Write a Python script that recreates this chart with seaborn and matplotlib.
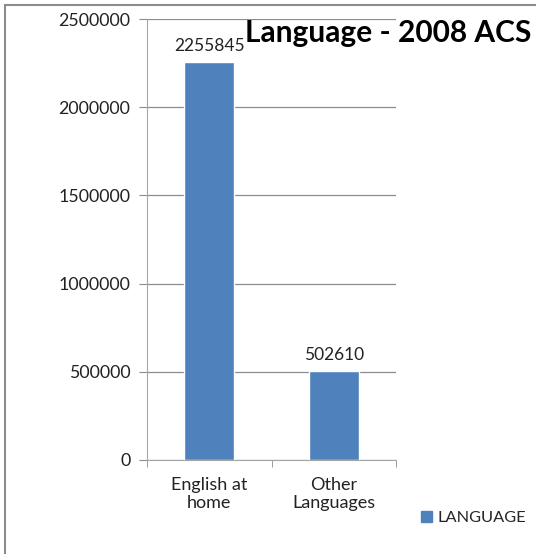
import pandas as pd
import matplotlib.pyplot as plt
import seaborn as sns
from matplotlib.patches import Rectangle

categories = ["English at\nhome", "Other\nLanguages"]
values = [2255845, 502610]
series = "LANGUAGE"
yticks = [0, 500000, 1000000, 1500000, 2000000, 2500000]

bar_color = "#4F81BD"
grid_color = "#8C8C8C"

df = pd.DataFrame({"category": categories, "count": values, "series": series})

sns.set_style("white")
plt.rcParams["font.family"] = ["Lato", "DejaVu Sans"]

fig = plt.figure(figsize=(5.36, 5.54), dpi=100)
ax = fig.add_axes([147 / 536, 1 - 460 / 554, 249 / 536, 441 / 554])

sns.barplot(data=df, x="category", y="count", hue="series", palette=[bar_color],
            width=0.4, dodge=False, saturation=1, ax=ax, legend=False)

ax.set_xlim(-0.5, 1.5)
ax.set_ylim(0, 2500000)
ax.set_yticks(yticks)
ax.set_yticklabels([str(t) for t in yticks], fontsize=12.8, color="#222222")
ax.set_xticks([0, 1])
ax.set_xticklabels(categories, fontsize=13, color="#222222", linespacing=1.15)
ax.set_xlabel("")
ax.set_ylabel("")
ax.tick_params(axis="x", length=0, pad=12)
ax.set_xticks([-0.5, 0.5, 1.5], minor=True)
ax.tick_params(axis="x", which="minor", length=5, color=grid_color, direction="out", bottom=True)
ax.tick_params(axis="y", length=6, color=grid_color, direction="out", left=True, pad=6)

ax.yaxis.grid(True, color=grid_color, linewidth=0.9)
ax.set_axisbelow(True)
for side in ["top", "right"]:
    ax.spines[side].set_visible(False)
ax.spines["left"].set_color("#A6A6A6")
ax.spines["bottom"].set_color("#A6A6A6")

for i, v in enumerate(values):
    ax.text(i, v + 45000, str(v), ha="center", va="bottom", fontsize=12.5, color="#222222")

# title nudged right a touch so it no longer sits on the first bar's label
fig.text(531 / 536, 1 - 33 / 554, "Language - 2008 ACS", ha="right", va="center",
         fontsize=21.5, fontweight="bold", color="black")

fig.legend(handles=[Rectangle((0, 0), 1, 1, color=bar_color)], labels=[series],
           loc="center left", bbox_to_anchor=(406 / 536, 1 - 518 / 554), frameon=False,
           fontsize=11.8, handlelength=0.7, handleheight=0.7, handletextpad=0.35)

fig.patches.append(Rectangle((5 / 536, -0.1), 1.2, 1 - 5 / 554 + 0.1, transform=fig.transFigure,
                             fill=False, edgecolor="#8C8C8C", linewidth=1.5))

fig.savefig("out.png", dpi=100)
